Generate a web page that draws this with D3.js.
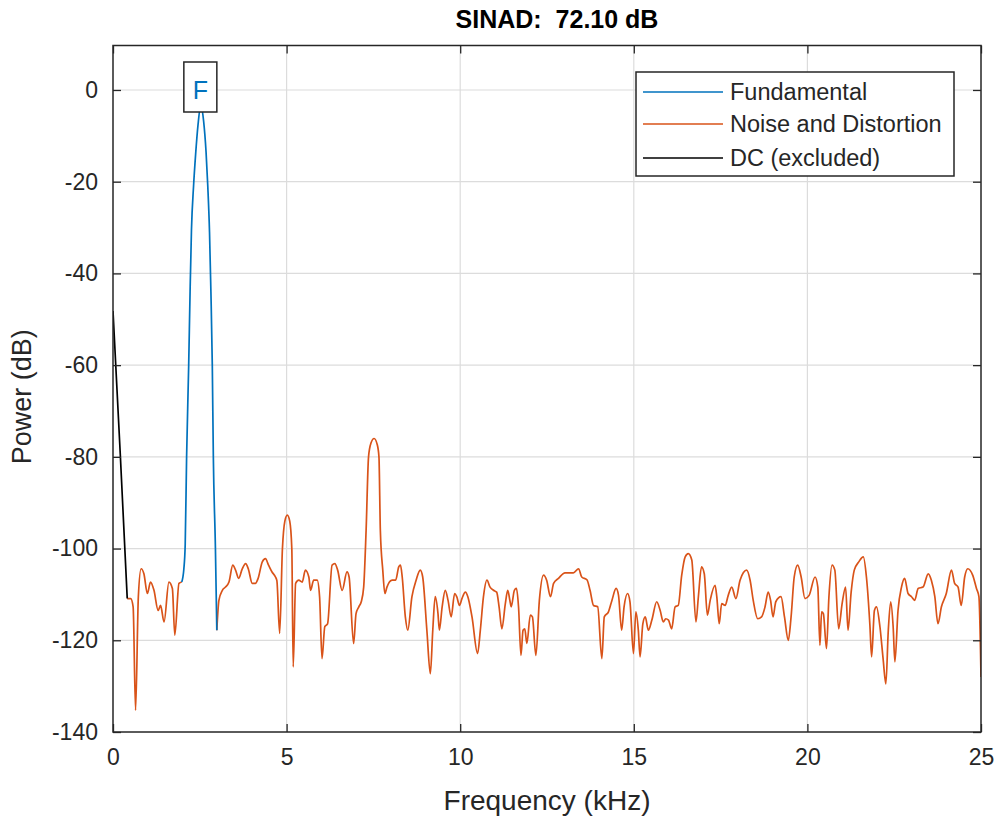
<!DOCTYPE html>
<html>
<head>
<meta charset="utf-8">
<script src="https://cdn.jsdelivr.net/npm/d3@7"></script>
<style>
  body { margin: 0; background: #fff; }
  svg text { font-family: "Liberation Sans", Arial, Helvetica, sans-serif; fill: #262626; }
</style>
</head>
<body>
<div id="chart-area"></div>
<script>
// values (kHz, dB)
const xTicks = [0, 5, 10, 15, 20, 25]
const yTicks = [-140, -120, -100, -80, -60, -40, -20, 0]

const dcData = [[0, -48.2], [0.21, -79.5], [0.41, -110.9]]

const fundData = [
  [1.98, -107.3], [2.04, -104.5], [2.08, -99], [2.12, -80], [2.18, -60], [2.22, -44],
  [2.26, -30.5], [2.32, -21], [2.38, -14], [2.45, -7.5], [2.53, -3.3], [2.61, -6.8],
  [2.68, -13.5], [2.73, -21], [2.78, -31], [2.82, -44], [2.86, -60], [2.89, -80],
  [2.95, -100], [2.99, -117.8]
]

const noiseLow = [
  [0.41, -110.9], [0.51, -110.9], [0.58, -112.7], [0.65, -135.3], [0.73, -110.5],
  [0.81, -104.4], [0.89, -105.5], [0.99, -109.8], [1.08, -107.3], [1.18, -109.1],
  [1.30, -113.5], [1.37, -112.4], [1.47, -116], [1.61, -107.3], [1.71, -108.7],
  [1.78, -118.9], [1.90, -107.6], [1.98, -107.3]
]

const noiseHigh = [
  [2.99, -117.8], [3.05, -111.3], [3.15, -109.1], [3.24, -108.4], [3.34, -107.3],
  [3.45, -103.6], [3.53, -104.7], [3.62, -106.5], [3.72, -104.5], [3.82, -103.3],
  [3.90, -104.5], [4.01, -107.6], [4.10, -107.6], [4.18, -106.5], [4.30, -102.9],
  [4.39, -102.2], [4.48, -103.6], [4.58, -105.1], [4.68, -106.2], [4.72, -107],
  [4.80, -118.5], [4.88, -100], [4.95, -94], [5.02, -92.7], [5.09, -94], [5.15, -100],
  [5.19, -125.8], [5.26, -107.6], [5.35, -106.9], [5.45, -107.3], [5.54, -104.7],
  [5.64, -106.2], [5.69, -109.1], [5.78, -106.9], [5.88, -106.9], [5.95, -110.5],
  [6.02, -124], [6.10, -117], [6.18, -116.4], [6.31, -103.6], [6.39, -103.3],
  [6.47, -104.7], [6.60, -109.1], [6.74, -105.1], [6.80, -106.2], [6.93, -120.7],
  [7.00, -114.2], [7.08, -112.7], [7.15, -111.6], [7.22, -108.4], [7.29, -96],
  [7.36, -80], [7.43, -77], [7.52, -76], [7.61, -77.3], [7.66, -80], [7.70, -96],
  [7.77, -104.7], [7.83, -109.8], [7.89, -108.4], [8.04, -106.9], [8.14, -106.9],
  [8.23, -104], [8.28, -103.6], [8.33, -106.2], [8.42, -114.9], [8.49, -117.8],
  [8.61, -110.5], [8.73, -106.9], [8.85, -104.7], [8.92, -106.2], [9.04, -117.8],
  [9.14, -127.3], [9.21, -117.8], [9.28, -110.5], [9.36, -114.2], [9.40, -117.8],
  [9.48, -112.7], [9.57, -109.1], [9.65, -111.3], [9.74, -114.9], [9.84, -109.8],
  [9.90, -110.5], [9.98, -112.4], [10.05, -110.9], [10.15, -109.5], [10.22, -110.5],
  [10.34, -114.9], [10.50, -122.9], [10.58, -117.8], [10.67, -110.5], [10.77, -106.9],
  [10.86, -108.4], [10.96, -109.1], [11.05, -109.5], [11.12, -112.7], [11.20, -117.5],
  [11.30, -112], [11.37, -109.1], [11.43, -111.3], [11.47, -112.7], [11.56, -109.1],
  [11.62, -108.7], [11.68, -112.7], [11.75, -123.3], [11.81, -117.8], [11.86, -117.5],
  [11.92, -120.7], [12.02, -114.5], [12.08, -114.9], [12.18, -123.3], [12.28, -111.3],
  [12.40, -105.8], [12.49, -106.9], [12.60, -110.5], [12.69, -107.6], [12.83, -106.5],
  [13.02, -105.3], [13.26, -105.3], [13.41, -104.4], [13.50, -106.2], [13.65, -106.8],
  [13.74, -109.1], [13.84, -112.4], [13.96, -112.7], [14.08, -124.0], [14.15, -114.9],
  [14.27, -113.8], [14.37, -111.3], [14.49, -108.7], [14.56, -110.2], [14.65, -117.8],
  [14.72, -112.7], [14.82, -109.8], [14.89, -111.6], [14.99, -122.9], [15.06, -113.8],
  [15.13, -117.8], [15.18, -123.6], [15.26, -116.4], [15.33, -114.9], [15.42, -117.8],
  [15.52, -115.6], [15.66, -111.6], [15.76, -113.5], [15.85, -116], [15.92, -115.3],
  [16.00, -115.6], [16.09, -117.5], [16.19, -112.7], [16.28, -112.4], [16.38, -105.8],
  [16.48, -101.8], [16.57, -101.1], [16.67, -102.5], [16.79, -116], [16.86, -110.5],
  [16.95, -104], [17.03, -105.5], [17.12, -114.5], [17.20, -111.3], [17.34, -108],
  [17.39, -110.5], [17.46, -116.4], [17.53, -112], [17.63, -112.4], [17.72, -110.2],
  [17.82, -108.4], [17.94, -110.9], [18.06, -106.9], [18.25, -104.7], [18.35, -106.9],
  [18.44, -111.3], [18.57, -115.3], [18.68, -114.9], [18.78, -112.7], [18.87, -109.5],
  [18.94, -111.3], [19.01, -114.9], [19.09, -111.6], [19.24, -110.5], [19.34, -114.9],
  [19.45, -120], [19.53, -114.9], [19.62, -106.2], [19.72, -103.6], [19.82, -106.2],
  [19.93, -110.9], [20.05, -110.2], [20.22, -106.2], [20.30, -108.4], [20.36, -121.1],
  [20.41, -113.8], [20.46, -114.2], [20.55, -121.8], [20.62, -110.5], [20.71, -103.6],
  [20.79, -104.7], [20.90, -117.5], [21.00, -112], [21.10, -108.4], [21.17, -117.8],
  [21.26, -109.5], [21.35, -104.7], [21.48, -102.9], [21.61, -101.8], [21.70, -106.2],
  [21.80, -116.7], [21.85, -123.6], [21.93, -113.5], [21.99, -112.7], [22.09, -117.1],
  [22.18, -124], [22.26, -129.5], [22.33, -117.8], [22.40, -111.6], [22.47, -117.1],
  [22.52, -124.7], [22.61, -113.5], [22.71, -108.4], [22.80, -106.5], [22.90, -109.8],
  [23.00, -110.5], [23.09, -111.3], [23.19, -108.7], [23.33, -108.4], [23.48, -105.5],
  [23.57, -106.9], [23.67, -110.5], [23.76, -116.4], [23.86, -112.7], [24.00, -109.8],
  [24.15, -104.7], [24.24, -107.6], [24.34, -108.4], [24.43, -112.4], [24.53, -106.2],
  [24.62, -104.4], [24.76, -105.8], [24.87, -108.7], [24.94, -110.5], [25.0, -128]
]

const fundPeak = [2.53, -3.3]

const seriesNames = ['Fundamental', 'Noise and Distortion', 'DC (excluded)']
const seriesColors = ['#0072BD', '#D95319', '#000000']

const W = 997, H = 820
const plot = { left: 113, right: 981, top: 45.5, bottom: 732 }
const axisColor = '#262626'

const svg = d3.select('#chart-area').append('svg')
    .attr('width', W)
    .attr('height', H)

const x = d3.scaleLinear().domain([0, 25]).range([plot.left, plot.right])
const y = d3.scaleLinear().domain([-140, 9.7]).range([plot.bottom, plot.top])

// grid
const grid = svg.append('g').attr('stroke', '#dcdcdc').attr('stroke-width', 1.2)
grid.selectAll('.vg').data(xTicks.slice(1, -1)).enter().append('line')
    .attr('x1', d => x(d)).attr('x2', d => x(d))
    .attr('y1', plot.top).attr('y2', plot.bottom)
grid.selectAll('.hg').data(yTicks.slice(1)).enter().append('line')
    .attr('x1', plot.left).attr('x2', plot.right)
    .attr('y1', d => y(d)).attr('y2', d => y(d))

svg.append('clipPath').attr('id', 'clip')
  .append('rect')
    .attr('x', plot.left).attr('y', plot.top)
    .attr('width', plot.right - plot.left).attr('height', plot.bottom - plot.top)

const line = d3.line()
    .x(d => x(d[0]))
    .y(d => y(d[1]))
    .curve(d3.curveMonotoneX)

const lines = svg.append('g').attr('clip-path', 'url(#clip)')
    .attr('fill', 'none').attr('stroke-width', 1.7).attr('stroke-linejoin', 'round')

lines.append('path').datum(noiseLow).attr('d', line).attr('stroke', seriesColors[1])
lines.append('path').datum(noiseHigh).attr('d', line).attr('stroke', seriesColors[1])
lines.append('path').datum(dcData).attr('d', line).attr('stroke', seriesColors[2])
lines.append('path').datum(fundData).attr('d', line).attr('stroke', seriesColors[0])

// axes (box with inward ticks)
const tickLen = 8
const axisBottom = d3.axisBottom(x).tickValues(xTicks).tickSizeInner(-tickLen).tickSizeOuter(0).tickPadding(17)
const axisTop = d3.axisTop(x).tickValues(xTicks).tickSizeInner(-tickLen).tickSizeOuter(0).tickFormat('')
const axisLeft = d3.axisLeft(y).tickValues(yTicks).tickSizeInner(-tickLen).tickSizeOuter(0).tickPadding(15)
    .tickFormat(d => String(d).replace('\u2212', '-'))
const axisRight = d3.axisRight(y).tickValues(yTicks).tickSizeInner(-tickLen).tickSizeOuter(0).tickFormat('')

function styleAxis(g) {
  g.select('.domain').remove()
  g.selectAll('line').attr('stroke', axisColor).attr('stroke-width', 1.3)
  g.selectAll('text').attr('fill', axisColor).attr('font-size', '23px')
    .attr('font-family', '"Liberation Sans", Arial, sans-serif')
}

svg.append('g').attr('transform', `translate(0,${plot.bottom})`).call(axisBottom).call(styleAxis)
svg.append('g').attr('transform', `translate(0,${plot.top})`).call(axisTop).call(styleAxis)
svg.append('g').attr('transform', `translate(${plot.left},0)`).call(axisLeft).call(styleAxis)
svg.append('g').attr('transform', `translate(${plot.right},0)`).call(axisRight).call(styleAxis)

svg.append('rect')
    .attr('x', plot.left).attr('y', plot.top)
    .attr('width', plot.right - plot.left).attr('height', plot.bottom - plot.top)
    .attr('fill', 'none').attr('stroke', axisColor).attr('stroke-width', 1.5)

// labels
svg.append('text')
    .attr('x', (plot.left + plot.right) / 2 + 10).attr('y', 28)
    .attr('text-anchor', 'middle').attr('font-size', '25px').attr('font-weight', 'bold')
    .attr('xml:space', 'preserve')
    .style('fill', '#000')
    .text('SINAD:  72.10 dB')

svg.append('text')
    .attr('x', (plot.left + plot.right) / 2).attr('y', 810)
    .attr('text-anchor', 'middle').attr('font-size', '28px')
    .text('Frequency (kHz)')

svg.append('text')
    .attr('transform', `translate(31, ${(plot.top + plot.bottom) / 2 + 8}) rotate(-90)`)
    .attr('text-anchor', 'middle').attr('font-size', '27px')
    .text('Power (dB)')

// fundamental marker
const fx = x(fundPeak[0])
svg.append('rect')
    .attr('x', fx - 17).attr('y', 62).attr('width', 33).attr('height', 50)
    .attr('fill', '#fff').attr('stroke', axisColor).attr('stroke-width', 1.5)
svg.append('text')
    .attr('x', fx - 0.5).attr('y', 99)
    .attr('text-anchor', 'middle').attr('font-size', '25px')
    .style('fill', seriesColors[0])
    .text('F')

// legend
const legend = svg.append('g').attr('transform', 'translate(636,72)')
legend.append('rect')
    .attr('width', 318).attr('height', 104)
    .attr('fill', '#fff').attr('stroke', axisColor).attr('stroke-width', 1.5)
const rows = [20, 52, 86]
seriesNames.forEach((name, i) => {
  legend.append('line')
      .attr('x1', 7).attr('x2', 87).attr('y1', rows[i]).attr('y2', rows[i])
      .attr('stroke', seriesColors[i]).attr('stroke-width', 1.7)
  legend.append('text')
      .attr('x', 94).attr('y', rows[i] + 8)
      .attr('font-size', '23.5px')
      .text(name)
})
</script>
</body>
</html>
